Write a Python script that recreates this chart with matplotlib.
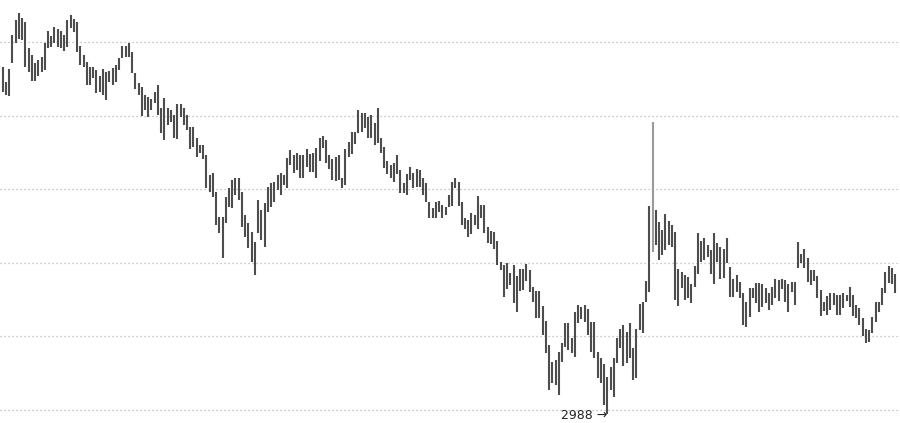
import matplotlib
matplotlib.use("Agg")
import matplotlib.pyplot as plt
import numpy as np

highs = [
    3932, 3891, 3927, 4019, 4060, 4079, 4065, 4054, 3984, 3965, 3943, 3951, 3959, 3997, 4030, 4016,
    4041, 4035, 4030, 4019, 4060, 4073, 4062, 4054, 3989, 3965, 3946, 3932, 3932, 3924, 3908, 3927,
    3918, 3921, 3929, 3937, 3956, 3989, 3989, 3997, 3973, 3916, 3889, 3878, 3856, 3850,
    3845, 3864, 3883, 3821, 3848, 3821, 3815, 3802, 3831, 3831, 3821, 3802, 3769, 3769, 3739, 3720,
    3720, 3693, 3638, 3644, 3592, 3524, 3524, 3579, 3603, 3625, 3630, 3630, 3592, 3530, 3508, 3484,
    3456, 3571, 3543, 3562, 3606, 3617, 3619, 3638, 3644, 3638, 3685, 3706, 3693, 3698, 3693,
    3693, 3709, 3696, 3698, 3712, 3739, 3744, 3734, 3693, 3682, 3687, 3693, 3630, 3709, 3728, 3755,
    3755, 3815, 3807, 3807, 3796, 3802, 3780, 3821, 3739, 3715, 3677, 3666, 3671, 3693, 3652, 3617,
    3641, 3660, 3644, 3655, 3652, 3630, 3617, 3565, 3549, 3565, 3568, 3557, 3551, 3584,
    3619, 3630, 3619, 3565, 3522, 3516, 3535, 3530, 3581, 3557, 3557, 3497, 3486, 3484, 3459, 3402,
    3394, 3399, 3372, 3394, 3364, 3383, 3383, 3397, 3380, 3334, 3323, 3323, 3283, 3242, 3177, 3130,
    3136, 3158, 3182, 3236, 3236, 3196, 3266, 3285, 3280, 3285, 3274, 3239, 3239, 3158,
    3141, 3125, 3090, 3117, 3141, 3196, 3220, 3231, 3212, 3236, 3168, 3220, 3288, 3293, 3351, 3554,
    3783, 3543, 3511, 3489, 3533, 3513, 3503, 3484, 3383, 3375, 3367, 3361, 3342, 3391, 3481, 3459,
    3467, 3448, 3435, 3481, 3454, 3443, 3437, 3467, 3389, 3356, 3367, 3348, 3318, 3293, 3332,
    3332, 3345, 3345, 3342, 3332, 3318, 3334, 3356, 3353, 3356, 3353, 3342, 3348, 3348, 3456, 3424,
    3437, 3413, 3380, 3380, 3364, 3326, 3293, 3310, 3318, 3318, 3312, 3312, 3318, 3312, 3334, 3312,
    3285, 3277, 3250, 3220, 3217, 3253, 3293, 3293, 3332, 3375, 3391, 3386, 3369,
]

lows = [
    3864, 3856, 3853, 3943, 3997, 4008, 4005, 3932, 3918, 3894, 3894, 3908, 3918, 3924, 3984, 3986,
    3997, 3986, 3984, 3975, 3986, 4038, 4027, 3973, 3937, 3932, 3883, 3883, 3902, 3861, 3864, 3856,
    3842, 3891, 3883, 3891, 3924, 3956, 3959, 3959, 3916, 3872, 3856, 3799, 3815, 3796,
    3815, 3834, 3802, 3753, 3734, 3774, 3783, 3739, 3736, 3796, 3774, 3761, 3709, 3715, 3687, 3698,
    3682, 3603, 3592, 3579, 3503, 3481, 3413, 3508, 3551, 3549, 3584, 3571, 3497, 3470, 3440, 3402,
    3367, 3481, 3462, 3443, 3538, 3551, 3565, 3598, 3584, 3611, 3603, 3666, 3644, 3652, 3630,
    3630, 3660, 3647, 3647, 3630, 3677, 3712, 3671, 3655, 3625, 3622, 3625, 3603, 3611, 3687, 3696,
    3723, 3753, 3755, 3766, 3739, 3739, 3720, 3725, 3698, 3658, 3641, 3630, 3619, 3641, 3590, 3590,
    3584, 3625, 3603, 3606, 3606, 3584, 3565, 3522, 3522, 3522, 3538, 3522, 3530, 3551,
    3554, 3603, 3554, 3503, 3492, 3470, 3478, 3503, 3492, 3522, 3481, 3454, 3451, 3437, 3394, 3380,
    3307, 3329, 3340, 3291, 3266, 3323, 3326, 3351, 3321, 3293, 3250, 3250, 3204, 3155, 3054, 3073,
    3068, 3041, 3130, 3171, 3163, 3155, 3144, 3236, 3247, 3239, 3204, 3158, 3141, 3087,
    3073, 3014, 2988, 3054, 3035, 3128, 3168, 3120, 3128, 3141, 3081, 3087, 3217, 3209, 3293, 3321,
    3429, 3448, 3408, 3421, 3435, 3448, 3443, 3299, 3283, 3332, 3299, 3304, 3291, 3334, 3369, 3402,
    3408, 3416, 3369, 3342, 3402, 3356, 3359, 3399, 3307, 3307, 3321, 3304, 3231, 3226, 3253,
    3304, 3291, 3266, 3280, 3291, 3272, 3285, 3304, 3296, 3329, 3293, 3266, 3321, 3285, 3386, 3399,
    3386, 3348, 3340, 3351, 3304, 3255, 3269, 3258, 3272, 3285, 3258, 3258, 3277, 3296, 3280, 3255,
    3250, 3231, 3201, 3182, 3185, 3209, 3239, 3266, 3285, 3318, 3345, 3342, 3318,
]

grid_levels = [3000, 3200, 3400, 3600, 3800, 4000]
low_label = "2988 →"

n = min(len(highs), len(lows))
highs = np.array(highs[:n])
lows = np.array(lows[:n])
idx = np.arange(n)

fig = plt.figure(figsize=(9.0, 4.23), dpi=100)
ax = fig.add_axes([0, 0, 1, 1])
ax.set_axis_off()

for g in grid_levels:
    ax.axhline(g, color="#b4b4b4", lw=0.9, ls=(0, (1.0, 2.2)), zorder=1)

colors = ["#4d4d4d"] * n
colors = np.array(colors, dtype=object)
spike = int(np.argmax(highs[150:])) + 150
colors[spike] = "#9a9a9a"
ax.vlines(idx, lows, highs, colors=list(colors), lw=1.5, zorder=2)

imin = int(np.argmin(lows))
ax.annotate(low_label, xy=(imin, lows[imin]), xytext=(0, -1), textcoords="offset points",
            ha="right", va="center", fontsize=9, color="#222222",
            family="DejaVu Sans")

ax.set_xlim(-0.84, 277.54)
ax.set_ylim(2964.6, 4114.1)

fig.savefig("out.png", dpi=100, facecolor="white")
